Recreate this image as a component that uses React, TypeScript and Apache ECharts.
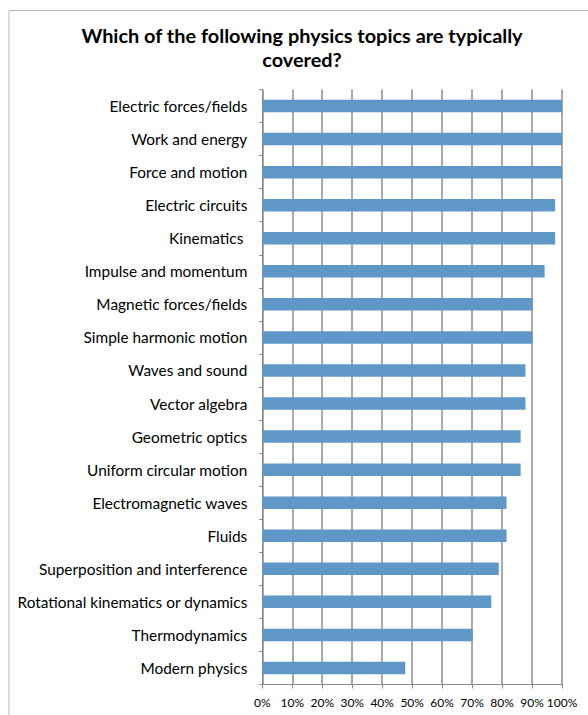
import React, { useEffect, useRef } from "react";
import * as echarts from "echarts";

const titleLines = ["Which of the following physics topics are typically", "covered?"];

const categories = [
  "Electric forces/fields",
  "Work and energy",
  "Force and motion",
  "Electric circuits",
  "Kinematics ",
  "Impulse and momentum",
  "Magnetic forces/fields",
  "Simple harmonic motion",
  "Waves and sound",
  "Vector algebra",
  "Geometric optics",
  "Uniform circular motion",
  "Electromagnetic waves",
  "Fluids",
  "Superposition and interference",
  "Rotational kinematics or dynamics",
  "Thermodynamics",
  "Modern physics",
];

const values = [100, 100, 100, 97.7, 97.7, 94.2, 90.2, 90.2, 87.8, 87.8, 86.2, 86.2, 81.5, 81.5, 78.9, 76.4, 70.2, 47.7];

const xTicks = { min: 0, max: 100, interval: 10 };

const FONT = "Lato";

export default function App() {
  const ref = useRef<HTMLDivElement>(null);
  useEffect(() => {
    if (!ref.current) return;
    const chart = echarts.init(ref.current, undefined, { renderer: "svg" });
    chart.setOption({
      animation: false,
      backgroundColor: "#ffffff",
      title: {
        text: titleLines.join("\n"),
        left: 297,
        textAlign: "center",
        top: 18,
        textStyle: { fontFamily: FONT, fontSize: 19.9, fontWeight: "bold", color: "#000", lineHeight: 24 },
      },
      graphic: [
        {
          type: "rect",
          shape: { x: 9, y: 10.5, width: 600, height: 720 },
          style: { fill: "none", stroke: "#b8b8b8", lineWidth: 1 },
          silent: true,
        },
      ],
      grid: { left: 262.3, right: 26, top: 89.5, bottom: 30.5, containLabel: false },
      xAxis: {
        type: "value",
        min: xTicks.min,
        max: xTicks.max,
        interval: xTicks.interval,
        axisLine: { show: true, lineStyle: { color: "#8a8a8a", width: 1 } },
        axisTick: { show: true, length: 4, lineStyle: { color: "#8a8a8a" } },
        axisLabel: {
          formatter: "{value}%",
          color: "#000",
          fontFamily: FONT,
          fontSize: 12,
          margin: 12,
        },
        splitLine: { show: true, lineStyle: { color: "#8c8c8c", width: 1.5 } },
      },
      yAxis: {
        type: "category",
        inverse: true,
        data: categories,
        axisLine: { show: true, lineStyle: { color: "#8a8a8a", width: 1 } },
        axisTick: { show: true, length: 3, alignWithLabel: false, lineStyle: { color: "#8a8a8a" } },
        axisLabel: {
          color: "#000",
          fontFamily: FONT,
          fontSize: 15.4,
          margin: 15,
          padding: [0, 0, -2, 0],
        },
      },
      series: [
        {
          type: "bar",
          data: values,
          barWidth: 12.5,
          itemStyle: { color: "#6097c9" },
        },
      ],
    });
    return () => chart.dispose();
  }, []);
  return <div ref={ref} style={{ position: "fixed", left: 0, top: 0, width: 588, height: 715 }} />;
}
